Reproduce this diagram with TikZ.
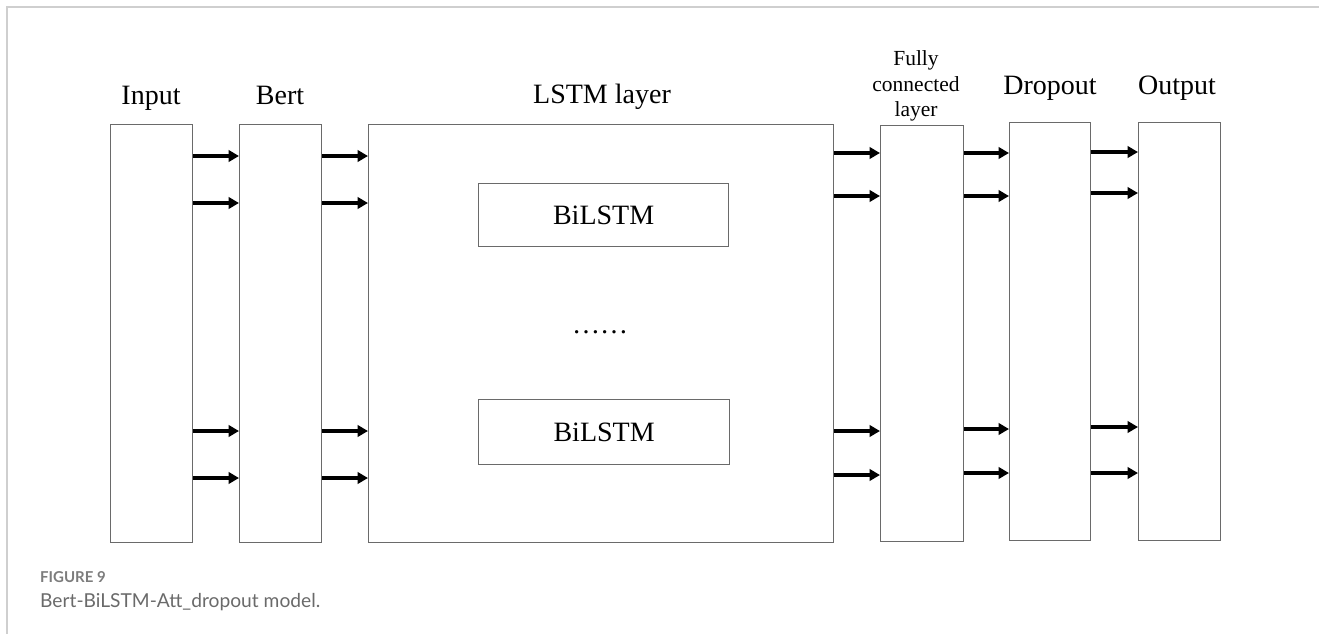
\documentclass[tikz,border=0pt]{standalone}
\usepackage{fontspec}
\setmainfont{Liberation Serif}
\newfontfamily\capfont{Lato}
\usetikzlibrary{arrows.meta}
\definecolor{boxgray}{HTML}{6A6A6A}
\definecolor{framegray}{HTML}{CFCFCF}
\definecolor{capgray}{HTML}{6A6A6A}
\definecolor{figgray}{HTML}{7C7C7C}
\tikzset{
  layerbox/.style={draw=boxgray, line width=1.2pt, anchor=north west, inner sep=0pt, fill=white},
  innerbox/.style={layerbox, font=\fontsize{28}{28}\selectfont},
  layerlabel/.style={anchor=base, inner sep=0pt, font=\fontsize{28}{28}\selectfont},
  smalllabel/.style={anchor=base, inner sep=0pt, font=\fontsize{21.5}{25}\selectfont},
  arr/.style={line width=3.6pt, -{Triangle[length=10.5pt,width=11.5pt]}},
}
\begin{document}
\begin{tikzpicture}[x=1pt,y=-1pt]
\useasboundingbox (0,0) rectangle (1319,634);
% page frame
\draw[framegray, line width=2pt] (7,634) -- (7,7) -- (1319,7);

% layer boxes
\node[layerbox, minimum width=82pt, minimum height=418pt] (input) at (110,124) {};
\node[layerbox, minimum width=82pt, minimum height=418pt] (bert)  at (239,124) {};
\node[layerbox, minimum width=465pt, minimum height=418pt] (lstm) at (368,124) {};
\node[layerbox, minimum width=83pt, minimum height=416pt] (fc)    at (880,125) {};
\node[layerbox, minimum width=81pt, minimum height=418pt] (drop)  at (1009,122) {};
\node[layerbox, minimum width=82pt, minimum height=418pt] (out)   at (1138,122) {};

% BiLSTM blocks inside the LSTM layer
\node[innerbox, minimum width=250pt, minimum height=63pt] (bi1) at (478,183) {BiLSTM};
\node[innerbox, minimum width=251pt, minimum height=65pt] (bi2) at (478,399) {BiLSTM};
\node[anchor=base, inner sep=0pt, font=\fontsize{28}{28}\selectfont] (dots) at (600,333) {……};

% titles
\node[layerlabel] (tin)   at (151,104) {Input};
\node[layerlabel] (tbert) at (280,104) {Bert};
\node[layerlabel] (tlstm) at (602,103) {LSTM layer};
\node[smalllabel] (tfc1)  at (916,66)  {Fully};
\node[smalllabel] (tfc2)  at (916,91)  {connected};
\node[smalllabel] (tfc3)  at (916,116) {layer};
\node[layerlabel] (tdrop) at (1050,94) {Dropout};
\node[layerlabel] (tout)  at (1177,94) {Output};

% connections between layers
\foreach \a/\b/\ys in {input/bert/{156,203,431,478},
                       bert/lstm/{156,203,431,478},
                       lstm/fc/{153,196,431,475},
                       fc/drop/{153,196,429,473},
                       drop/out/{152,193,427,473}}{
  \foreach \y in \ys {
    \draw[arr] (\a.east |- 0,\y) -- (\b.west |- 0,\y);
  }
}

% caption
\node[anchor=base west, inner sep=0pt, text=figgray, font=\capfont\bfseries\fontsize{15}{15}\selectfont] (fig) at (40,582) {FIGURE 9};
\node[anchor=base west, inner sep=0pt, text=capgray, font=\capfont\fontsize{19.2}{19.2}\selectfont] (cap) at (40,607) {Bert-BiLSTM-Att\_dropout model.};
\end{tikzpicture}
\end{document}
